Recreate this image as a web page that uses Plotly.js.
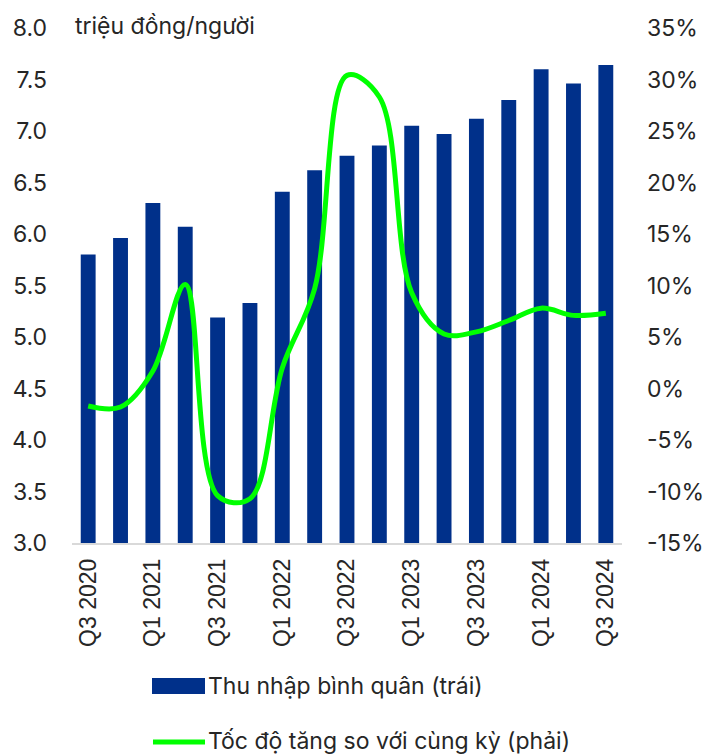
<!DOCTYPE html>
<html>
<head>
<meta charset="utf-8">
<script src="https://cdn.plot.ly/plotly-3.0.1.min.js"></script>
<style>html,body{margin:0;padding:0;background:#fff;}#chart{width:704px;height:754px;}</style>
</head>
<body>
<div id="chart"></div>
<script>
const quarters = ['Q3 2020','Q4 2020','Q1 2021','Q2 2021','Q3 2021','Q4 2021','Q1 2022','Q2 2022','Q3 2022','Q4 2022','Q1 2023','Q2 2023','Q3 2023','Q4 2023','Q1 2024','Q2 2024','Q3 2024'];
const income = [5.80, 5.96, 6.30, 6.07, 5.19, 5.33, 6.41, 6.62, 6.76, 6.86, 7.05, 6.97, 7.12, 7.30, 7.60, 7.46, 7.64];
const growth = [-1.7, -1.8, 1.7, 10.1, -10.4, -10.7, 2.0, 9.7, 30.4, 28.3, 9.3, 5.3, 5.5, 6.6, 7.8, 7.1, 7.3];
const tickLabels = ['Q3 2020','Q1 2021','Q3 2021','Q1 2022','Q3 2022','Q1 2023','Q3 2023','Q1 2024','Q3 2024'];
const leftTickVals = [3.0, 3.5, 4.0, 4.5, 5.0, 5.5, 6.0, 6.5, 7.0, 7.5, 8.0];
const leftTickText = ['3.0','3.5','4.0','4.5','5.0','5.5','6.0','6.5','7.0','7.5','8.0'];
const rightTickVals = [-15, -10, -5, 0, 5, 10, 15, 20, 25, 30, 35];
const rightTickText = ['-15%','-10%','-5%','0%','5%','10%','15%','20%','25%','30%','35%'];
const incomeName = 'Thu nhập bình quân (trái)';
const growthName = 'Tốc độ tăng so với cùng kỳ (phải)';
const unitLabel = 'triệu đồng/người';

const barColor = '#00308a';
const lineColor = '#00ff00';
const textColor = '#262626';
const FONT = 'Inter, sans-serif';
const XFONT = 'Liberation Sans, Arial, sans-serif';

const traces = [
  {type:'bar', x: quarters, y: income, name: incomeName, marker:{color: barColor}, yaxis:'y', hoverinfo:'skip'},
  {type:'scatter', mode:'lines', x: quarters, y: growth, name: growthName, yaxis:'y2',
   line:{color: lineColor, width:5, shape:'spline', smoothing:1}, hoverinfo:'skip'}
];

const H = 515, W = 550;
function px(x){ return (x-72)/W; }
function py(y){ return (543-y)/H; }

const layout = {
  width:704, height:754,
  margin:{l:72, r:82, t:28, b:211},
  paper_bgcolor:'#fff', plot_bgcolor:'#fff',
  showlegend:false,
  bargap:0.54,
  font:{family:FONT, size:23, color:textColor},
  xaxis:{type:'category', range:[-0.5,16.5], tickmode:'array', tickvals: tickLabels, ticktext: tickLabels,
         tickangle:-90, showline:true, linecolor:'#d9d9d9', linewidth:1.5, showgrid:false, ticks:'',
         ticklabelstandoff:5, tickfont:{family:XFONT, size:23, color:textColor}, fixedrange:true},
  yaxis:{range:[3,8], tickmode:'array', tickvals:leftTickVals, ticktext:leftTickText, showgrid:false, zeroline:false, showline:false, ticks:'',
         ticklabelstandoff:24, tickfont:{family:FONT, size:23, color:textColor}},
  yaxis2:{range:[-15,35], tickmode:'array', tickvals:rightTickVals, ticktext:rightTickText, overlaying:'y', side:'right', showgrid:false, zeroline:false,
          showline:false, ticks:'', ticklabelstandoff:24, tickfont:{family:FONT, size:23, color:textColor}},
  shapes:[
    {type:'rect', xref:'paper', yref:'paper', x0:px(152), x1:px(205), y0:py(694), y1:py(678), fillcolor:barColor, line:{width:0}},
    {type:'line', xref:'paper', yref:'paper', x0:px(153), x1:px(205), y0:py(742), y1:py(742), line:{color:lineColor, width:5}}
  ],
  annotations:[
    {text: unitLabel, xref:'paper', yref:'paper', x:px(73), y:py(26), xanchor:'left', yanchor:'middle', showarrow:false, font:{family:FONT, size:23, color:textColor}},
    {text: incomeName, xref:'paper', yref:'paper', x:px(206), y:py(686), xanchor:'left', yanchor:'middle', showarrow:false, font:{family:FONT, size:23, color:textColor}},
    {text: growthName, xref:'paper', yref:'paper', x:px(206), y:py(741), xanchor:'left', yanchor:'middle', showarrow:false, font:{family:FONT, size:23, color:textColor}}
  ]
};

Plotly.newPlot('chart', traces, layout, {staticPlot:true, displayModeBar:false});
</script>
</body>
</html>
